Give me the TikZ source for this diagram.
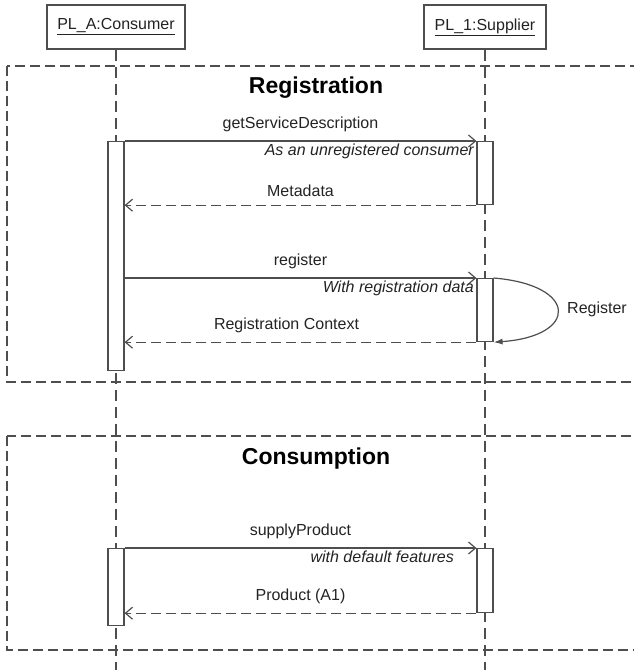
\documentclass[tikz,border=0pt]{standalone}
\usepackage{fontspec}
\setmainfont{Liberation Sans}
\usetikzlibrary{arrows.meta,positioning}
\definecolor{linegray}{RGB}{78,78,78}
\definecolor{textgray}{RGB}{35,35,35}

\tikzset{
  objbox/.style={draw=linegray, line width=1.2pt, fill=white, minimum height=44pt,
    font=\fontsize{16}{18}\selectfont, text=textgray},
  lifeline/.style={draw=linegray, line width=1.2pt, dash pattern=on 11pt off 6pt},
  actbar/.style={draw=linegray, line width=1.2pt, fill=white, minimum width=16pt,
    inner sep=0pt, anchor=north},
  frame/.style={draw=linegray, line width=1.2pt, dash pattern=on 10pt off 5pt},
  frametitle/.style={font=\fontsize{23}{26}\selectfont\bfseries},
  msg/.style={draw=linegray, line width=1.2pt, -{Straight Barb[length=7pt,width=12pt]}},
  reply/.style={msg, dash pattern=on 10pt off 5pt},
  msglabel/.style={font=\fontsize{16}{18}\selectfont, text=textgray, above=5pt},
  notelabel/.style={font=\fontsize{16}{18}\selectfont\itshape, text=textgray,
    below left, pos=1, inner sep=2pt},
  selfcall/.style={draw=linegray, line width=1.2pt, -{Latex[length=9pt,width=6pt]}}
}

\begin{document}
\begin{tikzpicture}[x=1pt,y=-1pt]
\useasboundingbox (0,0) rectangle (634,670);
\clip (0,0) rectangle (634,670);

% Objekte
\node[objbox, minimum width=138pt] (cons) at (116,27) {\underline{PL\_A:Consumer}};
\node[objbox, minimum width=122pt] (supp) at (485,27) {\underline{PL\_1:Supplier}};
\coordinate (consend) at (116,670);
\coordinate (suppend) at (485,670);
\draw[lifeline] (cons.south) -- (consend);
\draw[lifeline] (supp.south) -- (suppend);

% Rahmen
\draw[frame] (7,66) rectangle (660,382);
\draw[frame] (7,436) rectangle (660,650);
\node[frametitle] (regtitle) at (316,88) {Registration};
\node[frametitle] (contitle) at (316,459) {Consumption};

% Aktivierungsbalken
\node[actbar, minimum height=229pt] (ca1) at (116,141) {};
\node[actbar, minimum height=63pt] (sa1) at (485,141) {};
\node[actbar, minimum height=63pt] (sa2) at (485,278) {};
\node[actbar, minimum height=77pt] (ca2) at (116,548) {};
\node[actbar, minimum height=64pt] (sa3) at (485,548) {};

% Registrierung
\draw[msg] (ca1.north east) -- node[msglabel] {getServiceDescription}
  node[notelabel] {As an unregistered consumer} (sa1.north west);
\draw[reply] (sa1.south west) -- node[msglabel] {Metadata} (ca1.east |- sa1.south);
\draw[msg] (ca1.east |- sa2.north) -- node[msglabel] {register}
  node[notelabel] {With registration data} (sa2.north west);
\draw[selfcall] (sa2.north east) .. controls +(85,7) and +(85,-6) .. (sa2.south east);
\node[font=\fontsize{16}{18}\selectfont, text=textgray] (regself) at (597,309) {Register};
\draw[reply] (sa2.south west) -- node[msglabel, xshift=-14pt] {Registration Context} (ca1.east |- sa2.south);

% Konsum
\draw[msg] (ca2.north east) -- node[msglabel] {supplyProduct}
  node[notelabel, xshift=-20pt] {with default features} (sa3.north west);
\draw[reply] (sa3.south west) -- node[msglabel] {Product (A1)} (ca2.east |- sa3.south);

\end{tikzpicture}
\end{document}
